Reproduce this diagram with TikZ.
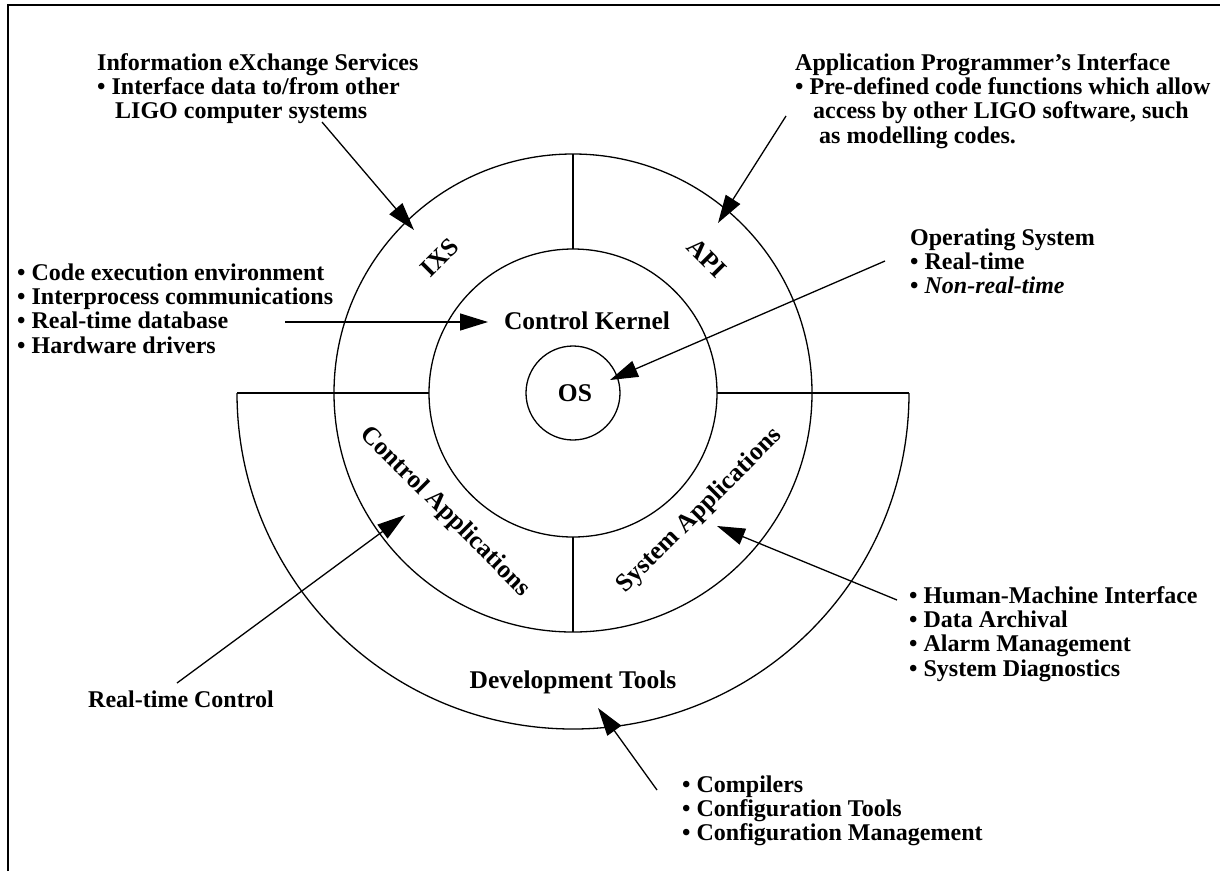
\documentclass[tikz,border=0pt]{standalone}
\usepackage{fontspec}
\setmainfont{Liberation Serif}
\usetikzlibrary{arrows.meta}
\newcommand{\txtblock}[1]{\begin{tabular}[t]{@{}l@{}}#1\end{tabular}}
\begin{document}
\begin{tikzpicture}[x=1pt,y=-1pt,
  ring/.style={line width=1.3pt},
  lbl/.style={font=\fontsize{24}{24.4}\selectfont\bfseries, inner sep=0pt},
  rlbl/.style={font=\fontsize{25.5}{26}\selectfont\bfseries, inner sep=0pt},
  blk/.style={lbl, anchor=base west},
  ptr/.style={line width=1.3pt, -{Triangle[length=28pt,width=17pt]}},
]
\useasboundingbox (0,0) rectangle (1220,871);
\fill[white] (0,0) rectangle (1220,871);
\draw[line width=2pt] (8,871) -- (8,5) -- (1220,5);

% rings
\coordinate (c) at (573,393);
\draw[ring] (c) circle[radius=47pt];
\draw[ring] (c) circle[radius=144pt];
\draw[ring] (c) circle[radius=239pt];
\coordinate (bigL) at (237,393);
\coordinate (bigR) at (909,393);
\coordinate (inL) at (429,393);
\coordinate (inR) at (717,393);
\coordinate (inT) at (573,249);
\coordinate (outT) at (573,154);
\coordinate (inB) at (573,537);
\coordinate (outB) at (573,632);
\draw[ring] (bigL) arc[start angle=180, end angle=360, radius=336pt];
\draw[ring] (bigL) -- (inL);
\draw[ring] (inR) -- (bigR);
\draw[ring] (outT) -- (inT);
\draw[ring] (inB) -- (outB);

% ring labels
\node[rlbl, anchor=base] (os) at (575,401) {OS};
\node[rlbl, anchor=base] (ck) at (587,329) {Control Kernel};
\node[rlbl, rotate=45] (ixs) at (440,258) {IXS};
\node[rlbl, rotate=-45] (api) at (707,258) {API};
\node[rlbl, rotate=-45] (capp) at (445,512) {Control Applications};
\node[rlbl, rotate=45] (sapp) at (700,511) {System Applications};
\node[rlbl, anchor=base] (dev) at (573,688) {Development Tools};

% text blocks
\node[blk] (ixst) at (97,70) {\txtblock{Information eXchange Services\\• Interface data to/from other\\\hspace*{18pt}LIGO computer systems}};
\node[blk] (apit) at (795,70) {\txtblock{Application Programmer’s Interface\\• Pre-defined code functions which allow\\\hspace*{18pt}access by other LIGO software, such\\\hspace*{24pt}as modelling codes.}};
\node[blk] (ckt) at (17,280) {\txtblock{• Code execution environment\\• Interprocess communications\\• Real-time database\\• Hardware drivers}};
\node[blk] (ost) at (910,245) {\txtblock{Operating System\\• Real-time\\• \textit{Non-real-time}}};
\node[blk] (sat) at (909,603) {\txtblock{• Human-Machine Interface\\• Data Archival\\• Alarm Management\\• System Diagnostics}};
\node[blk] (dtt) at (682,792) {\txtblock{• Compilers\\• Configuration Tools\\• Configuration Management}};
\node[blk] (rtc) at (88,707) {Real-time Control};

% arrows
\coordinate (ixsA) at (322,122); \coordinate (ixsB) at (414,230);
\coordinate (apiA) at (786,116); \coordinate (apiB) at (718,223);
\coordinate (ckA) at (285,322);  \coordinate (ckB) at (488,322);
\coordinate (osA) at (885,261);  \coordinate (osB) at (610,380);
\coordinate (caA) at (177,683);  \coordinate (caB) at (405,515);
\coordinate (saA) at (897,600);  \coordinate (saB) at (717,526);
\coordinate (dtA) at (657,790);  \coordinate (dtB) at (598,708);
\draw[ptr] (ixsA) -- (ixsB);
\draw[ptr] (apiA) -- (apiB);
\draw[ptr] (ckA) -- (ckB);
\draw[ptr] (osA) -- (osB);
\draw[ptr] (caA) -- (caB);
\draw[ptr] (saA) -- (saB);
\draw[ptr] (dtA) -- (dtB);
\end{tikzpicture}
\end{document}
